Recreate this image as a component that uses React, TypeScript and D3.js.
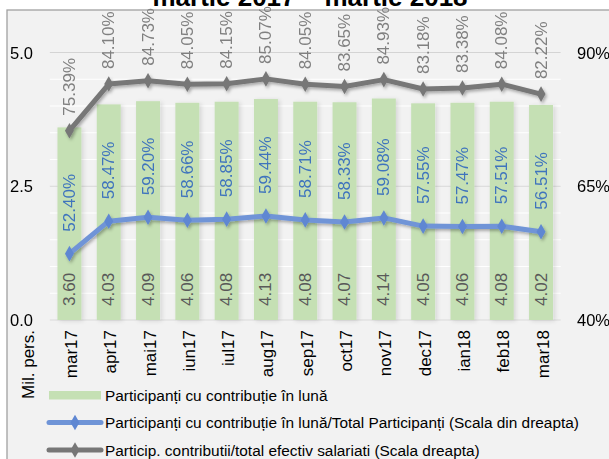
import React from "react";
import * as d3 from "d3";

const categories = ["mar17","apr17","mai17","iun17","iul17","aug17","sep17","oct17","nov17","dec17","ian18","feb18","mar18"];
const participants = [3.60,4.03,4.09,4.06,4.08,4.13,4.08,4.07,4.14,4.05,4.06,4.08,4.02];
const ratioTotal = [52.40,58.47,59.20,58.66,58.85,59.44,58.71,58.33,59.08,57.55,57.47,57.51,56.51];
const ratioEmployees = [75.39,84.10,84.73,84.05,84.15,85.07,84.05,83.65,84.93,83.18,83.38,84.08,82.22];
const leftTicks = [0, 2.5, 5.0];
const rightTicks = [40, 65, 90];
const minorTicks = d3.range(0, 5.01, 0.5);
const title = "martie 2017 – martie 2018";
const legendLabels = [
  "Participanți cu contribuție în lună",
  "Participanți cu contribuție în lună/Total Participanți (Scala din dreapta)",
  "Particip. contributii/total efectiv salariati (Scala dreapta)",
];
const yAxisTitle = "Mil. pers.";

const FONT = "'Liberation Sans Narrow', 'Arial Narrow', 'Liberation Sans', Arial, sans-serif";
const GREEN = "#c5e0b4";
const BLUE = "#6f94d7";
const BLUE_TXT = "#3f74bd";
const GRAY = "#777777";
const GRAY_TXT = "#808080";

export default function App() {
  const W = 609, H = 459;
  const x = d3.scaleBand<string>().domain(categories).range([49.8, 560.7]).paddingInner(0.39).paddingOuter(0.195);
  const y = d3.scaleLinear().domain([0, 5]).range([320, 52.5]);
  const yr = d3.scaleLinear().domain([40, 90]).range([320, 52.5]);
  const cx = (c: string) => (x(c) as number) + x.bandwidth() / 2;
  const lineR = d3.line<number>().x((_, i) => cx(categories[i])).y((v) => yr(v));
  const diamond = d3.symbol().type(d3.symbolDiamond).size(70);

  return (
    <svg width={W} height={H} style={{ position: "absolute", left: 0, top: 0 }} fontFamily={FONT}>
      <defs>
        <filter id="sh" x="-20%" y="-20%" width="140%" height="140%">
          <feDropShadow dx="1.5" dy="2" stdDeviation="1.5" floodColor="#000" floodOpacity="0.3" />
        </filter>
        <filter id="shb" x="-30%" y="-10%" width="160%" height="120%">
          <feDropShadow dx="2" dy="1" stdDeviation="2" floodColor="#000" floodOpacity="0.12" />
        </filter>
      </defs>
      <rect x={0} y={0} width={W} height={H} fill="#ffffff" />
      <rect x={7} y={10} width={W + 10} height={H + 10} fill="#f2f2f2" stroke="#a0a0a0" strokeWidth={1.3} />
      <text x={310} y={6} textAnchor="middle" fontWeight="bold" fontSize={26} fill="#000">{title}</text>

      {/* gridlines */}
      {minorTicks.map((t) => (
        <line key={"m" + t} x1={49.8} x2={560.7} y1={y(t)} y2={y(t)} stroke="#ffffff" strokeWidth={1.2} />
      ))}
      {leftTicks.map((t) => (
        <line key={"g" + t} x1={49.8} x2={560.7} y1={y(t)} y2={y(t)} stroke="#d4d4d4" strokeWidth={1.2} />
      ))}

      {/* bars */}
      {participants.map((v, i) => (
        <rect key={"b" + i} x={x(categories[i])} y={y(v)} width={x.bandwidth()} height={y(0) - y(v)} fill={GREEN} filter="url(#shb)" />
      ))}
      {participants.map((v, i) => (
        <text key={"bl" + i} transform={`translate(${cx(categories[i])},${y(0) - 14}) rotate(-90)`} dominantBaseline="central" fontSize={17} fill="#595959">{v.toFixed(2)}</text>
      ))}

      {/* lines */}
      <g filter="url(#sh)">
        <path d={lineR(ratioEmployees) || ""} fill="none" stroke={GRAY} strokeWidth={5} strokeLinejoin="round" />
        {ratioEmployees.map((v, i) => (
          <path key={"gd" + i} d={diamond() || ""} transform={`translate(${cx(categories[i])},${yr(v)})`} fill={GRAY} />
        ))}
        <path d={lineR(ratioTotal) || ""} fill="none" stroke={BLUE} strokeWidth={5} strokeLinejoin="round" />
        {ratioTotal.map((v, i) => (
          <path key={"bd" + i} d={diamond() || ""} transform={`translate(${cx(categories[i])},${yr(v)})`} fill="#5f87d2" />
        ))}
      </g>
      {ratioEmployees.map((v, i) => (
        <text key={"gl" + i} transform={`translate(${cx(categories[i])},${yr(v) - 15}) rotate(-90)`} dominantBaseline="central" fontSize={17} fill={GRAY_TXT}>{v.toFixed(2) + "%"}</text>
      ))}
      {ratioTotal.map((v, i) => (
        <text key={"tl" + i} transform={`translate(${cx(categories[i])},${yr(v) - 22}) rotate(-90)`} dominantBaseline="central" fontSize={17} fill={BLUE_TXT}>{v.toFixed(2) + "%"}</text>
      ))}

      {/* axes labels */}
      {leftTicks.map((t) => (
        <text key={"lt" + t} x={33} y={y(t)} textAnchor="end" dominantBaseline="central" fontSize={16.5} fill="#000">{d3.format(".1f")(t)}</text>
      ))}
      {rightTicks.map((t) => (
        <text key={"rt" + t} x={577} y={yr(t)} textAnchor="start" dominantBaseline="central" fontSize={16.5} fill="#000">{t + "%"}</text>
      ))}
      {categories.map((c) => (
        <text key={"c" + c} transform={`translate(${cx(c) + 2},${330}) rotate(-90)`} textAnchor="end" dominantBaseline="central" fontSize={17} fill="#000">{c}</text>
      ))}
      <text transform={`translate(28,330) rotate(-90)`} textAnchor="end" dominantBaseline="central" fontSize={17} fill="#000">{yAxisTitle}</text>

      {/* legend */}
      <rect x={49} y={391} width={52} height={8.5} fill={GREEN} />
      <text x={105} y={395} dominantBaseline="central" fontSize={15.4} fill="#000">{legendLabels[0]}</text>
      <line x1={49} x2={101} y1={422.5} y2={422.5} stroke={BLUE} strokeWidth={5} strokeLinecap="round" />
      <path d={diamond() || ""} transform="translate(75,422.5)" fill="#5f87d2" />
      <text x={105} y={422.5} dominantBaseline="central" fontSize={15.4} fill="#000">{legendLabels[1]}</text>
      <line x1={49} x2={101} y1={450} y2={450} stroke={GRAY} strokeWidth={5} strokeLinecap="round" />
      <path d={diamond() || ""} transform="translate(75,450)" fill={GRAY} />
      <text x={105} y={450} dominantBaseline="central" fontSize={15.4} fill="#000">{legendLabels[2]}</text>
    </svg>
  );
}
